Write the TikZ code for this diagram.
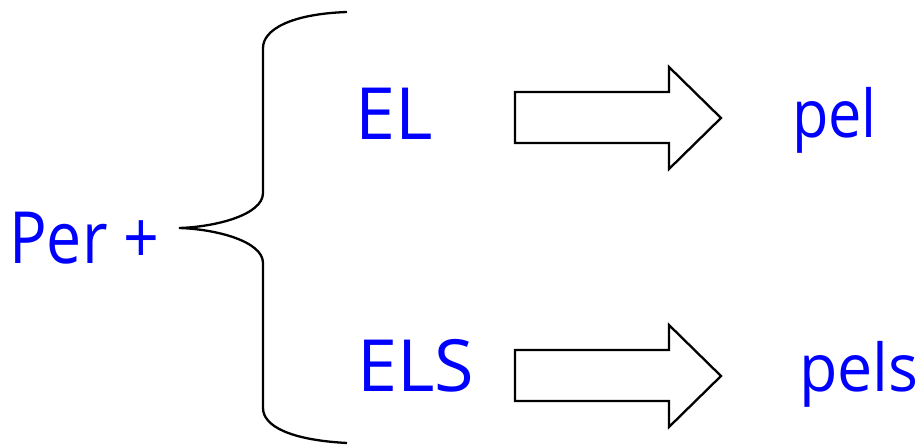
\documentclass[tikz,border=0pt]{standalone}
\usepackage{fontspec}
\setmainfont{Open Sans}
\usetikzlibrary{calc}
\definecolor{txtblue}{RGB}{0,0,255}
\tikzset{
  lbl/.style={anchor=base west, inner sep=0pt, text=txtblue, font=\fontsize{72}{80}\selectfont},
  lowlbl/.style={lbl, font=\fontsize{66}{74}\selectfont},
  fatarrow/.style={draw=black, line width=2.3pt, fill=white, line join=miter},
  bracepath/.style={draw=black, line width=2.3pt}
}
\begin{document}
\begin{tikzpicture}[x=1pt,y=-1pt]
\useasboundingbox (0,0) rectangle (922,446);
% texts
\node[lbl] (per) at (9,264) {\scalebox{0.87}[1]{Per +}};
\node[lbl] (el) at (355,140) {EL};
\node[lbl] (els) at (357,392) {ELS};
\node[lowlbl] (pel) at (792,138) {\scalebox{0.9}[1]{pel}};
\node[lowlbl] (pels) at (799,392) {\scalebox{0.95}[1]{pels}};
% brace
\coordinate (tip) at (179,228);
\draw[bracepath] (347,12) .. controls (290,14) and (263,30) .. (263,48)
  -- (263,193) .. controls (263,215) and (215,227) .. (tip)
  .. controls (215,229) and (263,241) .. (263,263)
  -- (263,408) .. controls (263,426) and (290,440) .. (347,443);
% arrows
\draw[fatarrow] (515,92) -- (669,92) -- (669,67) -- (721,118) -- (669,169) -- (669,143) -- (515,143) -- cycle;
\draw[fatarrow] (515,350) -- (669,350) -- (669,325) -- (721,376) -- (669,427) -- (669,401) -- (515,401) -- cycle;
\end{tikzpicture}
\end{document}
